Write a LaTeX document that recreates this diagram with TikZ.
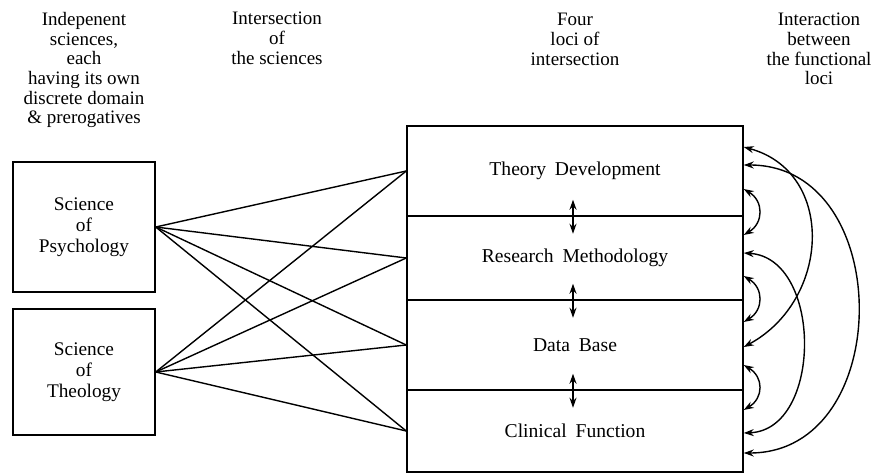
\documentclass[tikz,border=0pt]{standalone}
\usepackage{fontspec}
\setmainfont{Liberation Serif}
\usetikzlibrary{arrows.meta}
\newcommand\wsp{\hspace{0.45em}}
\begin{document}
\begin{tikzpicture}[x=1pt,y=-1pt,
  every node/.style={font=\fontsize{19}{19.7}\selectfont},
  hdr/.style={anchor=north, align=center, inner sep=0pt},
  sci/.style={draw, line width=1.5pt, minimum width=142pt, align=center, inner sep=0pt,
    font=\fontsize{19.3}{21.2}\selectfont},
  locus/.style={draw, line width=1.5pt, minimum width=336pt, inner sep=0pt,
    font=\fontsize{19.6}{20}\selectfont},
  link/.style={line width=1.4pt},
  dbl/.style={line width=1.4pt, {Stealth[length=10pt,width=7pt]}-{Stealth[length=10pt,width=7pt]}},
]
\useasboundingbox (0,0) rectangle (887,473);
% headings
\node[hdr] (h1) at (84,12) {Indepenent\\sciences,\\each\\having its own\\discrete domain\\\& prerogatives};
\node[hdr] (h2) at (277,12) {Intersection\\of\\the sciences};
\node[hdr] (h3) at (575,13) {Four\\loci of\\intersection};
\node[hdr] (h4) at (819,13) {Interaction\\between\\the functional\\loci};
% sciences
\node[sci, minimum height=130pt] (psy) at (84,227) {Science\\of\\Psychology};
\node[sci, minimum height=126pt] (theo) at (84,372) {Science\\of\\Theology};
% loci
\node[locus, minimum height=90pt] (td) at (575,171) {Theory\wsp Development};
\node[locus, minimum height=84pt] (rm) at (575,258) {Research\wsp Methodology};
\node[locus, minimum height=90pt] (db) at (575,345) {Data\wsp Base};
\node[locus, minimum height=82pt] (cf) at (575,431) {Clinical\wsp Function};
% intersections
\foreach \s in {psy,theo}{
  \foreach \l in {td,rm,db,cf}{
    \draw[link] (\s.east) -- (\l.west);
  }
}
% vertical double arrows
\draw[dbl] ([xshift=-2pt,yshift=17pt]td.south) -- ([xshift=-2pt,yshift=-17pt]td.south);
\draw[dbl] ([xshift=-2pt,yshift=17pt]rm.south) -- ([xshift=-2pt,yshift=-17pt]rm.south);
\draw[dbl] ([xshift=-2pt,yshift=17pt]db.south) -- ([xshift=-2pt,yshift=-17pt]db.south);
% interaction arcs
\draw[dbl] ([yshift=24pt]td.east) .. controls +(92,25) and +(87,-47) .. ([yshift=-2pt]db.east);
\draw[dbl] ([yshift=6pt]td.east) .. controls +(152,0) and +(152,0) .. ([yshift=-22pt]cf.east);
\draw[dbl] ([yshift=5pt]rm.east) .. controls +(79,5) and +(79,-3) .. ([yshift=-2pt]cf.east);
\draw[dbl] ([yshift=-18pt]td.east) .. controls +(20,12) and +(20,-12) .. ([yshift=23pt]rm.east);
\draw[dbl] ([yshift=-18pt]rm.east) .. controls +(20,12) and +(20,-12) .. ([yshift=23pt]db.east);
\draw[dbl] ([yshift=-20pt]db.east) .. controls +(20,12) and +(20,-12) .. ([yshift=21pt]cf.east);
\end{tikzpicture}
\end{document}
